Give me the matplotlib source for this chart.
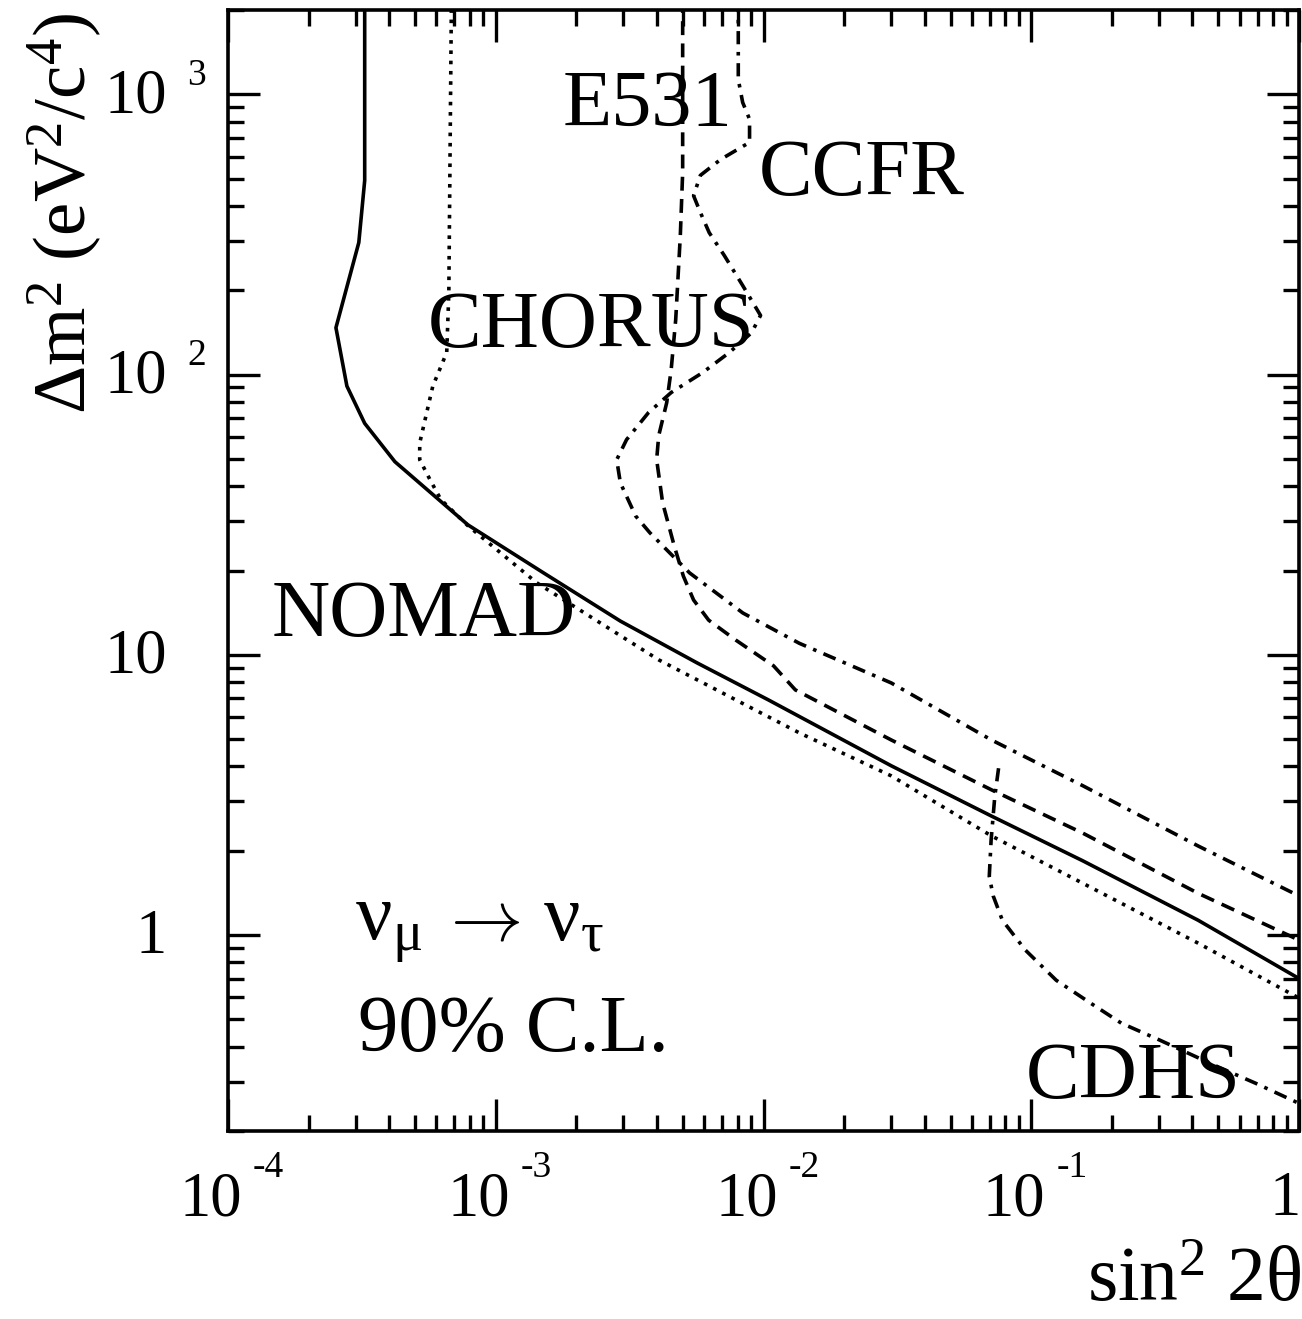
import numpy as np
import matplotlib
matplotlib.use("Agg")
import matplotlib.pyplot as plt
from matplotlib.transforms import offset_copy

plt.rcParams['font.family'] = ['Liberation Serif', 'DejaVu Serif']
plt.rcParams['mathtext.fontset'] = 'custom'
plt.rcParams['mathtext.rm'] = 'Liberation Serif'
plt.rcParams['mathtext.it'] = 'Liberation Serif'
plt.rcParams['mathtext.bf'] = 'Liberation Serif:bold'
plt.rcParams['mathtext.default'] = 'rm'
plt.rcParams['lines.scale_dashes'] = False

# --- exclusion contours (sin^2 2theta, dm^2) ---
nomad_x = [3.24e-4, 3.24e-4, 3.08e-4, 2.53e-4, 2.78e-4, 3.24e-4, 4.2e-4, 7.87e-4,
           1.51e-3, 2.92e-3, 5.65e-3, 0.01045, 0.030, 0.071, 0.156, 0.42, 1.0]
nomad_y = [3000, 493, 296, 147, 91, 67, 48.9, 29.1,
           19.6, 13.2, 9.36, 6.9, 4.02, 2.66, 1.84, 1.13, 0.70]

chorus_x = [6.85e-4, 6.68e-4, 6.56e-4, 5.82e-4, 5.2e-4, 5.2e-4, 5.68e-4, 6.24e-4,
            7.87e-4, 1.42e-3, 4.06e-3, 0.0136, 0.030, 0.071, 0.156, 0.42, 1.0]
chorus_y = [3000, 196, 120, 91, 57, 49.7, 42.2, 35.8,
            28.9, 18.1, 9.6, 5.27, 3.7, 2.26, 1.53, 0.936, 0.596]

e531_x = [4.99e-3, 4.99e-3, 4.89e-3, 4.7e-3, 4.52e-3, 4.35e-3, 4.06e-3, 3.99e-3,
          4.2e-3, 4.64e-3, 5.02e-3, 5.48e-3, 6.24e-3, 7.87e-3, 0.0109, 0.01315,
          0.030, 0.071, 0.156, 0.42, 1.0]
e531_y = [3000, 526, 313, 157, 104, 79.4, 60.5, 49.7,
          34.9, 24.5, 19.1, 15.7, 13.3, 11.3, 9.14, 7.5,
          4.97, 3.3, 2.31, 1.41, 0.96]

ccfr_x = [8.05e-3, 8.05e-3, 8.36e-3, 8.87e-3, 8.87e-3, 6.92e-3, 5.81e-3, 5.48e-3,
          5.81e-3, 6.27e-3, 7.14e-3, 8.36e-3, 9.75e-3, 9.02e-3, 7.46e-3, 5.92e-3,
          4.52e-3, 3.72e-3, 3.08e-3, 2.83e-3, 2.92e-3, 3.33e-3, 3.76e-3, 4.35e-3,
          5.3e-3, 8.38e-3, 0.0136, 0.030, 0.071, 0.156, 0.42, 1.0]
ccfr_y = [3000, 1131, 936, 815, 674, 586, 514, 435,
          379, 321, 266, 208, 162.6, 141, 120, 101.6,
          86.3, 73.2, 58.6, 49.7, 41.1, 31.3, 27.3, 23.7,
          19.6, 14.1, 11.0, 7.94, 4.97, 3.41, 2.08, 1.38]

cdhs_x = [0.0755, 0.0731, 0.0708, 0.0697, 0.0721, 0.078, 0.0951, 0.124,
          0.167, 0.217, 0.302, 0.494, 0.689, 1.0]
cdhs_y = [3.94, 3.13, 2.18, 1.62, 1.38, 1.13, 0.884, 0.69,
          0.571, 0.485, 0.422, 0.34, 0.296, 0.251]

xticks = [1e-4, 1e-3, 1e-2, 1e-1, 1]
xtick_base = ['10', '10', '10', '10', '1']
xtick_exp = ['-4', '-3', '-2', '-1', '']
yticks = [1, 10, 100, 1000]
ytick_base = ['1', '10', '10', '10']
ytick_exp = ['', '', '2', '3']

W, H = 1302, 1319
fig = plt.figure(figsize=(W / 100, H / 100), dpi=100)
ax = fig.add_axes([228 / W, 1 - 1131 / H, (1299 - 228) / W, (1131 - 10) / H])

lw = 2.6
ax.plot(nomad_x, nomad_y, color='black', lw=lw, ls='-')
ax.plot(chorus_x, chorus_y, color='black', lw=lw, dashes=(2.6, 4.8))
ax.plot(e531_x, e531_y, color='black', lw=lw, dashes=(10, 6))
ax.plot(ccfr_x, ccfr_y, color='black', lw=lw, dashes=(9.5, 5.5, 2.6, 5.5))
ax.plot(cdhs_x, cdhs_y, color='black', lw=lw, dashes=(9.5, 5.5, 2.6, 5.5))

ax.set_xscale('log')
ax.set_yscale('log')
ax.set_xlim(1e-4, 1)
ax.set_ylim(0.2, 2000)

for s in ax.spines.values():
    s.set_linewidth(2.6)
ax.tick_params(which='both', direction='in', top=True, right=True,
               labelbottom=False, labelleft=False, width=2.4)
ax.tick_params(which='major', length=23)
ax.tick_params(which='minor', length=11.5)
ax.set_xticks(xticks)
ax.set_yticks(yticks)
ax.xaxis.set_minor_locator(matplotlib.ticker.LogLocator(base=10, subs=np.arange(2, 10)))
ax.yaxis.set_minor_locator(matplotlib.ticker.LogLocator(base=10, subs=np.arange(2, 10)))
ax.xaxis.set_minor_formatter(matplotlib.ticker.NullFormatter())
ax.yaxis.set_minor_formatter(matplotlib.ticker.NullFormatter())

# tick labels, ROOT style: "10" with a detached exponent
tfs = 45
efs = 27
xtr = ax.get_xaxis_transform()
for v, b, e in zip(xticks, xtick_base, xtick_exp):
    if e:
        ax.text(v, 0, b, fontsize=tfs, ha='center', va='center', clip_on=False,
                transform=offset_copy(xtr, fig=fig, x=-17, y=-69, units='dots'))
        ax.text(v, 0, e, fontsize=efs, ha='left', va='center', clip_on=False,
                transform=offset_copy(xtr, fig=fig, x=25, y=-37, units='dots'))
    else:
        ax.text(v, 0, b, fontsize=tfs, ha='right', va='center', clip_on=False,
                transform=offset_copy(xtr, fig=fig, x=2, y=-69, units='dots'))

ytr = ax.get_yaxis_transform()
for v, b, e in zip(yticks, ytick_base, ytick_exp):
    ax.text(0, v, b, fontsize=tfs, ha='right', va='center', clip_on=False,
            transform=offset_copy(ytr, fig=fig, x=-61, y=-3, units='dots'))
    if e:
        ax.text(0, v, e, fontsize=efs, ha='left', va='center', clip_on=False,
                transform=offset_copy(ytr, fig=fig, x=-41, y=19, units='dots'))

# curve labels
lfs = 58
ax.text(3.69e-3, 774, 'E531', fontsize=lfs, ha='center', va='baseline')
ax.text(0.0232, 436, 'CCFR', fontsize=lfs, ha='center', va='baseline')
ax.text(2.26e-3, 125, 'CHORUS', fontsize=lfs, ha='center', va='baseline')
ax.text(5.38e-4, 11.7, 'NOMAD', fontsize=lfs, ha='center', va='baseline')
ax.text(0.240, 0.262, 'CDHS', fontsize=lfs, ha='center', va='baseline')
ax.text(2.98e-4, 0.96, r'$\nu_{\mu}$', fontsize=lfs, ha='left', va='baseline')
ax.text(8.7e-4, 0.96, r'$\rightarrow$', fontsize=52, ha='center', va='baseline',
        math_fontfamily='cm')
ax.text(1.50e-3, 0.96, r'$\nu_{\tau}$', fontsize=lfs, ha='left', va='baseline')
ax.text(3.05e-4, 0.385, '90% C.L.', fontsize=lfs, ha='left', va='baseline')

# axis titles
fig.text(65 / W, 1 - 13 / H, r'$\Delta$m$^{2}$ (eV$^{2}$/c$^{4}$)', fontsize=54,
         rotation=90, ha='center', va='top')
fig.text(1.0, 1 / H, r'sin$^{2}$ 2$\theta$', fontsize=56, ha='right', va='bottom')

fig.savefig('out.png', dpi=100)
